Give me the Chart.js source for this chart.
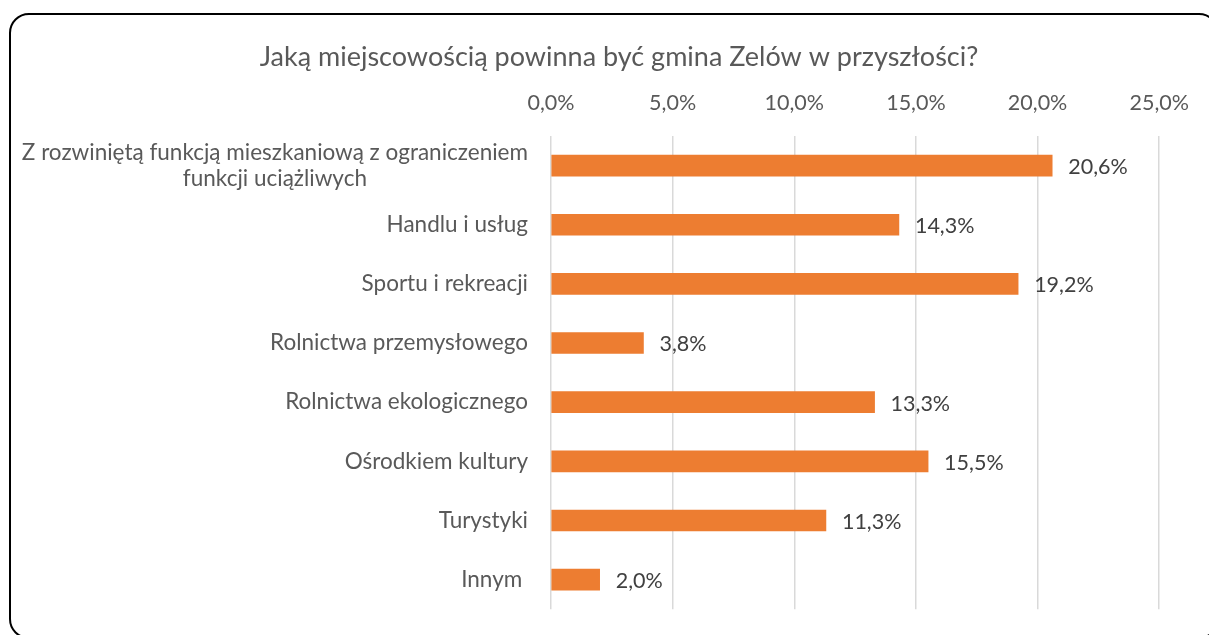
<!DOCTYPE html>
<html lang="pl">
<head>
<meta charset="utf-8">
<title>Jaką miejscowością powinna być gmina Zelów w przyszłości?</title>
<script src="https://cdn.jsdelivr.net/npm/chart.js@4.4.1/dist/chart.umd.min.js"></script>
<style>
  html, body { margin: 0; padding: 0; background: #fff; overflow: hidden; }
  #ramka { position: absolute; left: 9px; top: 13px; width: 1206px; height: 622px;
           border: 2px solid #000; border-radius: 20px; }
  #wrap { position: absolute; left: 0; top: 0; width: 1209px; height: 635px; }
</style>
</head>
<body>
<div id="ramka"></div>
<div id="wrap"><canvas id="wykres"></canvas></div>
<script>
// Dane
const tytul = 'Jaką miejscowością powinna być gmina Zelów w przyszłości?';
const kategorie = [
  ['Z rozwiniętą funkcją mieszkaniową z ograniczeniem', 'funkcji uciążliwych'],
  'Handlu i usług',
  'Sportu i rekreacji',
  'Rolnictwa przemysłowego',
  'Rolnictwa ekologicznego',
  'Ośrodkiem kultury',
  'Turystyki',
  'Innym '
];
const wartosci = [20.6, 14.3, 19.2, 3.8, 13.3, 15.5, 11.3, 2.0];
const osMin = 0, osMax = 25, osKrok = 5;

const czcionka = 'Lato, "Open Sans", sans-serif';
const szary = '#595959';
const procent = v => v.toFixed(1).replace('.', ',') + '%';

// Tytuł i etykiety osi Y rysowane ręcznie (wyśrodkowane linie jak w Excelu)
const teksty = {
  id: 'teksty',
  afterDraw(chart) {
    const ctx = chart.ctx;
    const { left } = chart.chartArea;
    const sy = chart.scales.y;
    ctx.save();
    ctx.fillStyle = szary;
    ctx.textBaseline = 'middle';
    ctx.textAlign = 'center';
    ctx.font = '27px ' + czcionka;
    ctx.fillText(tytul, 619, 57);

    ctx.font = '22.5px ' + czcionka;
    const lh = 26;
    kategorie.forEach((kat, i) => {
      const linie = [].concat(kat);
      const w = Math.max(...linie.map(l => ctx.measureText(l).width));
      const cx = left - 23 - w / 2;
      const py = sy.getPixelForTick(i);
      linie.forEach((l, j) => {
        ctx.fillText(l, cx, py + (j - (linie.length - 1) / 2) * lh);
      });
    });

    // etykiety wartości
    ctx.fillStyle = '#404040';
    ctx.textAlign = 'left';
    ctx.font = '21.5px ' + czcionka;
    const meta = chart.getDatasetMeta(0);
    meta.data.forEach((bar, i) => {
      ctx.fillText(procent(wartosci[i]), bar.x + 16, bar.y + 1.5);
    });
    ctx.restore();
  }
};

new Chart(document.getElementById('wykres'), {
  type: 'bar',
  data: {
    labels: kategorie,
    datasets: [{
      data: wartosci,
      backgroundColor: '#ED7D31',
      borderWidth: 0,
      barThickness: 21
    }]
  },
  options: {
    indexAxis: 'y',
    responsive: true,
    maintainAspectRatio: false,
    animation: false,
    layout: { padding: { left: 22, right: 49, top: 70, bottom: 24 } },
    plugins: {
      legend: { display: false },
      tooltip: { enabled: false },
      title: { display: false }
    },
    scales: {
      x: {
        position: 'top',
        min: osMin,
        max: osMax,
        ticks: {
          stepSize: osKrok,
          color: szary,
          padding: 20,
          font: { family: czcionka, size: 21.5 },
          callback: v => procent(v)
        },
        grid: { color: '#D9D9D9', lineWidth: 1.5, drawTicks: false },
        border: { display: false },
        afterFit: s => { s.height = 66; }
      },
      y: {
        ticks: { color: 'transparent', font: { family: czcionka, size: 19 } },
        grid: { display: false },
        border: { display: false },
        afterFit: s => { s.width = 529; }
      }
    }
  },
  plugins: [teksty]
});
</script>
</body>
</html>
